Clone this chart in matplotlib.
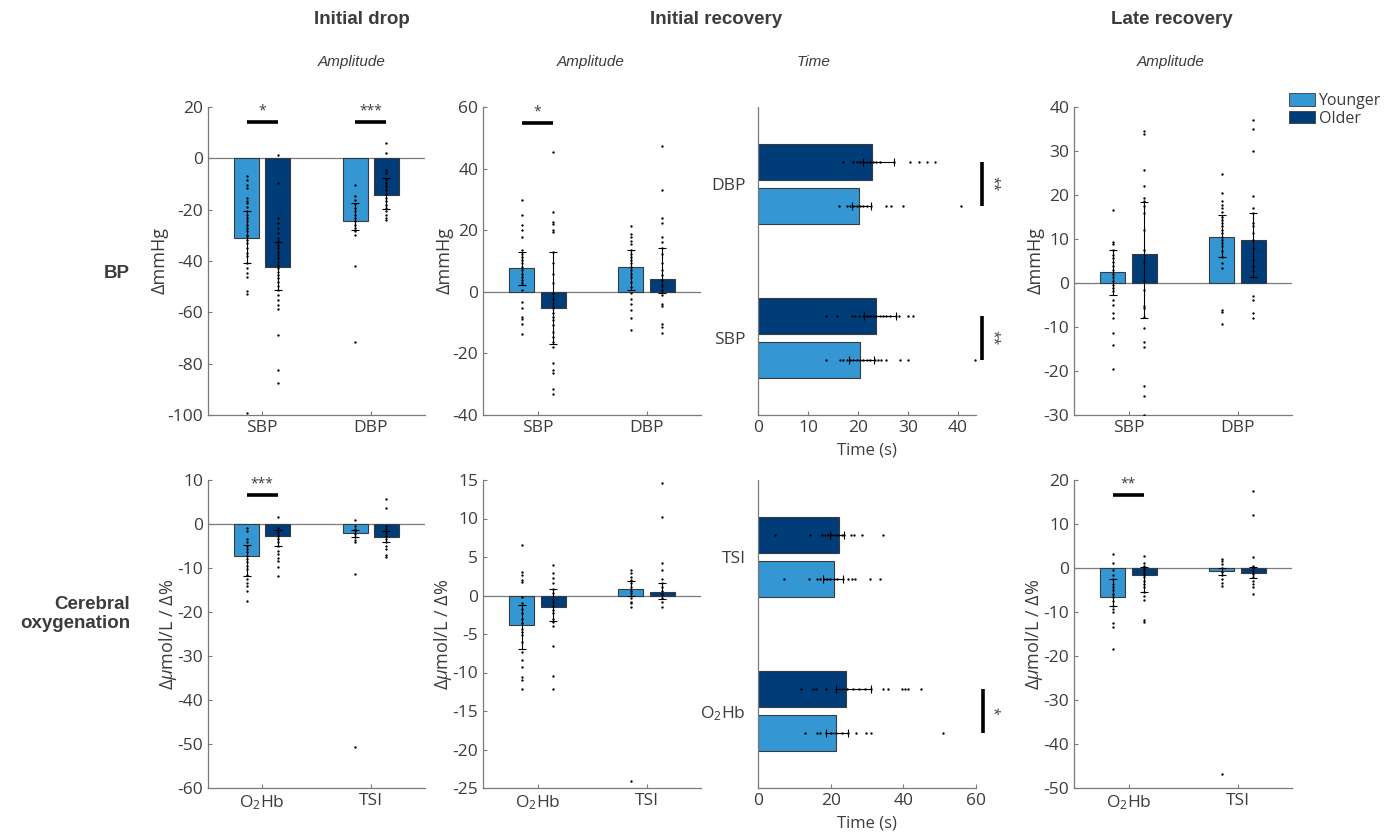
import numpy as np
import matplotlib.pyplot as plt
from matplotlib.patches import Patch

plt.rcParams['font.family'] = ['Open Sans', 'DejaVu Sans']
plt.rcParams['mathtext.fontset'] = 'custom'
plt.rcParams['mathtext.rm'] = 'Open Sans'
plt.rcParams['mathtext.it'] = 'Open Sans:italic'
plt.rcParams['axes.unicode_minus'] = False

C_YOUNG = '#3497d3'
C_OLD = '#003c78'
EDGE = '#3a3a3a'
TXT = '#3c3c3c'
AXC = '#7a7a7a'
HEAD = ['Liberation Sans', 'DejaVu Sans']
OFF = 0.143
W = 0.229

bp_cats = ['SBP', 'DBP']
ox_cats = ['O$_2$Hb', 'TSI']

# ---- Initial drop, amplitude, BP
drop_bp_young = [-31.1, -24.3]
drop_bp_old = [-42.4, -14.4]
drop_bp_young_ci = [(-40.8, -20.7), (-27.8, -17.4)]
drop_bp_old_ci = [(-51.2, -32.6), (-19.6, -7.7)]
drop_bp_young_pts = [
    [-7.0, -8.3, -10.5, -11.6, -15.5, -16.5, -17.4, -19.0, -20.7, -22.2, -23.3, -24.6, -25.9, -27.2, -28.5,
     -29.8, -30.4, -31.7, -33.0, -35.0, -36.9, -38.2, -40.8, -42.8, -44.7, -46.4, -51.6, -52.8, -99.1],
    [-10.3, -14.8, -16.1, -17.7, -19.4, -20.7, -22.0, -23.3, -24.6, -25.9, -27.2, -28.5, -29.8, -42.1, -71.4]]
drop_bp_old_pts = [
    [1.2, -9.6, -23.3, -25.2, -27.2, -29.1, -31.1, -32.4, -33.7, -35.0, -36.3, -37.6, -38.9, -40.2, -41.5,
     -42.8, -44.1, -45.4, -46.7, -48.0, -49.9, -51.2, -53.2, -55.1, -57.1, -58.8, -68.8, -82.4, -87.4],
    [6.0, 2.1, -4.4, -5.7, -8.1, -9.6, -10.9, -12.2, -13.8, -15.5, -16.8, -18.1, -19.4, -20.7, -22.0, -23.3, -24.2]]
drop_bp_sig = [(0, 14.2, '*'), (1, 14.2, '***')]

# ---- Initial recovery, amplitude, BP
recamp_bp_young = [7.6, 7.9]
recamp_bp_old = [-5.1, 4.3]
recamp_bp_young_ci = [(2.2, 13.0), (0.5, 13.7)]
recamp_bp_old_ci = [(-16.8, 13.0), (-0.5, 14.3)]
recamp_bp_young_pts = [
    [29.7, 24.9, 21.8, 20.0, 17.8, 13.5, 12.4, 11.4, 10.3, 9.2, 8.1, 7.0, 5.9, 4.9, 3.8, 2.7, 0.5, -3.2, -5.4,
     -8.1, -8.9, -10.3, -13.7],
    [21.3, 18.9, 17.8, 16.5, 15.5, 13.7, 12.4, 11.4, 10.3, 9.2, 8.1, 7.0, 5.9, 4.9, 3.2, 1.6, -0.5, -2.2, -3.8,
     -5.9, -8.6, -12.4]]
recamp_bp_old_pts = [
    [45.4, 25.9, 22.7, 21.9, 20.0, 19.5, 13.0, 9.2, 5.9, 2.7, -0.5, -2.2, -3.8, -5.4, -7.0, -8.1, -9.2, -10.8,
     -13.0, -14.6, -16.2, -17.8, -23.2, -25.4, -26.5, -31.4, -33.2],
    [47.2, 33.2, 23.8, 22.2, 17.8, 16.2, 14.3, 12.4, 9.2, 7.0, 5.4, 3.8, 2.2, 0.5, -1.1, -3.8, -4.6, -10.3,
     -11.4, -13.5]]
recamp_bp_sig = [(0, 54.9, '*')]

# ---- Initial recovery, time, BP (SBP bottom, DBP top)
rectime_bp_young = [20.3, 20.1]
rectime_bp_old = [23.5, 22.9]
rectime_bp_young_ci = [(18.1, 23.2), (18.7, 22.7)]
rectime_bp_old_ci = [(21.2, 27.7), (21.0, 27.2)]
rectime_bp_young_pts = [
    [13.5, 16.3, 17.0, 17.7, 18.3, 19.0, 19.7, 20.3, 21.0, 21.7, 22.3, 23.3, 24.0, 24.7, 25.7, 28.5, 30.1, 43.5],
    [16.2, 17.7, 18.3, 19.0, 19.7, 20.3, 21.0, 21.7, 22.7, 25.7, 26.5, 29.0, 40.7]]
rectime_bp_old_pts = [
    [13.5, 15.7, 18.7, 19.3, 20.2, 21.0, 21.7, 22.3, 23.0, 23.7, 24.3, 25.0, 25.7, 26.3, 27.7, 28.3, 30.0, 31.0],
    [16.9, 19.0, 19.7, 20.3, 21.0, 21.7, 22.3, 23.0, 23.7, 24.3, 27.2, 30.5, 32.3, 33.8, 35.4]]
rectime_bp_sig = [(0, 44.9, '**'), (1, 44.9, '**')]

# ---- Late recovery, amplitude, BP
late_bp_young = [2.5, 10.4]
late_bp_old = [6.6, 9.7]
late_bp_young_ci = [(-2.7, 7.5), (5.9, 15.4)]
late_bp_old_ci = [(-7.9, 18.4), (1.3, 15.9)]
late_bp_young_pts = [
    [16.5, 9.4, 8.9, 7.5, 6.4, 5.6, 4.7, 3.8, 3.0, 2.1, 1.3, 0.5, -0.4, -1.2, -1.9, -3.8, -5.0, -6.8, -8.0,
     -11.4, -14.2, -19.6],
    [24.7, 20.4, 18.7, 17.7, 17.0, 16.2, 15.1, 14.4, 13.6, 12.9, 12.1, 11.3, 10.5, 9.8, 9.1, 8.3, 7.2, 6.0, 4.5,
     3.5, -6.1, -6.6, -9.3]]
late_bp_old_pts = [
    [34.6, 33.9, 25.7, 22.1, 19.3, 18.7, 17.6, 15.9, 12.1, 7.4, 4.7, 0.7, -1.6, -5.2, -5.7, -7.8, -10.3, -13.3,
     -14.6, -23.5, -25.6, -30.0],
    [37.0, 35.0, 30.1, 19.7, 17.0, 15.9, 13.6, 12.9, 11.3, 9.8, 7.9, 5.3, 3.8, 2.7, 1.3, -2.9, -3.8, -6.8, -8.0]]
late_bp_sig = []

# ---- Initial drop, amplitude, oxygenation
drop_ox_young = [-7.3, -2.1]
drop_ox_old = [-2.7, -2.9]
drop_ox_young_ci = [(-11.9, -4.7), (-3.0, -1.4)]
drop_ox_old_ci = [(-5.0, -1.4), (-4.0, -1.7)]
drop_ox_young_pts = [
    [-0.8, -1.5, -3.4, -4.2, -4.9, -5.7, -6.4, -7.2, -8.0, -8.7, -9.5, -10.2, -11.7, -12.5, -13.3, -14.0,
     -15.2, -17.4],
    [0.8, -0.4, -1.1, -1.7, -2.3, -2.9, -3.6, -4.2, -11.4, -50.6]]
drop_ox_old_pts = [
    [1.7, -0.8, -1.9, -2.7, -3.4, -4.2, -5.0, -6.1, -6.8, -7.7, -8.3, -9.7, -11.9],
    [5.7, 3.6, -0.4, -1.1, -1.9, -2.7, -3.4, -4.2, -4.9, -5.7, -7.0, -7.6]]
drop_ox_sig = [(0, 6.6, '***')]

# ---- Initial recovery, amplitude, oxygenation
recamp_ox_young = [-3.8, 0.9]
recamp_ox_old = [-1.5, 0.5]
recamp_ox_young_ci = [(-7.0, -1.2), (-0.1, 1.9)]
recamp_ox_old_ci = [(-3.3, 0.8), (-0.4, 1.6)]
recamp_ox_young_pts = [
    [6.5, 3.1, 2.6, 2.0, 1.8, -0.2, -1.0, -1.7, -2.3, -3.0, -3.6, -4.3, -4.7, -5.1, -6.0, -7.3, -8.4, -9.3,
     -10.6, -11.0, -12.2],
    [3.3, 2.9, 2.4, 2.0, 1.6, 1.1, 0.6, 0.3, -0.3, -0.8, -1.0, -1.5, -24.1]]
recamp_ox_old_pts = [
    [3.9, 2.9, 2.3, 1.6, 0.9, 0.3, -0.4, -0.8, -1.3, -1.9, -2.3, -3.0, -3.4, -3.9, -6.6, -10.4, -12.1],
    [14.6, 10.2, 4.2, 3.3, 2.2, 1.6, 1.1, 0.6, 0.2, -0.3, -0.8, -1.5]]
recamp_ox_sig = []

# ---- Initial recovery, time, oxygenation (O2Hb bottom, TSI top)
rectime_ox_young = [21.4, 20.8]
rectime_ox_old = [24.2, 22.3]
rectime_ox_young_ci = [(18.8, 24.8), (17.9, 23.4)]
rectime_ox_old_ci = [(21.6, 31.0), (19.8, 23.6)]
rectime_ox_young_pts = [
    [12.9, 16.3, 17.2, 18.8, 20.2, 21.6, 23.0, 24.8, 27.1, 29.6, 31.0, 51.0],
    [7.1, 14.1, 16.3, 17.2, 18.1, 19.0, 19.9, 20.9, 21.8, 23.4, 24.8, 26.0, 26.8, 30.8, 33.5]]
rectime_ox_old_pts = [
    [11.7, 15.2, 15.9, 18.8, 21.6, 23.0, 24.4, 26.2, 27.8, 29.4, 31.0, 34.3, 35.8, 39.5, 40.4, 41.4, 45.0],
    [4.6, 14.2, 17.5, 18.4, 19.3, 20.2, 21.1, 22.1, 23.0, 23.6, 25.5, 26.4, 28.5, 34.3]]
rectime_ox_sig = [(0, 61.9, '*')]

# ---- Late recovery, amplitude, oxygenation
late_ox_young = [-6.7, -0.7]
late_ox_old = [-1.7, -1.2]
late_ox_young_ci = [(-8.6, -2.5), (-1.7, 0.0)]
late_ox_old_ci = [(-5.4, 0.2), (-2.3, 0.2)]
late_ox_young_pts = [
    [3.2, 1.1, -0.5, -1.7, -2.5, -3.6, -4.4, -5.1, -5.9, -6.7, -7.4, -8.6, -9.3, -10.1, -12.6, -13.5, -18.4],
    [2.0, 1.5, 0.8, -0.1, -0.8, -1.7, -2.5, -3.3, -4.0, -46.8]]
late_ox_old_pts = [
    [2.8, 1.1, 0.5, -0.2, -0.8, -1.5, -2.1, -2.9, -3.6, -4.4, -5.4, -6.3, -7.3, -11.8, -12.3],
    [17.4, 12.1, 2.6, 0.5, 0.0, -0.6, -1.4, -2.1, -2.9, -3.6, -4.4, -5.9]]
late_ox_sig = [(0, 16.6, '**')]


def style(ax):
    ax.set_facecolor('none')
    for s in ['top', 'right']:
        ax.spines[s].set_visible(False)
    for s in ['left', 'bottom']:
        ax.spines[s].set_color(AXC)
        ax.spines[s].set_linewidth(0.9)
    ax.tick_params(direction='in', length=3, width=0.8, color=AXC, labelcolor=TXT, labelsize=12.5)


def vpanel(ax, cats, young, old, yci, oci, ypts, opts, ylim, yticks, ylabel, sig):
    x = np.arange(1, len(cats) + 1)
    for off, vals, ci, pts, col in [(-OFF, young, yci, ypts, C_YOUNG), (OFF, old, oci, opts, C_OLD)]:
        vals = np.array(vals)
        lo = np.array([c[0] for c in ci])
        hi = np.array([c[1] for c in ci])
        ax.bar(x + off, vals, width=W, color=col, edgecolor=EDGE, linewidth=0.8, zorder=2)
        for xi, p in zip(x + off, pts):
            ax.plot(np.full(len(p), xi), p, 'o', ms=1.7, mew=0, color='k', zorder=3)
        ax.errorbar(x + off, vals, yerr=[np.abs(vals - lo), np.abs(hi - vals)], fmt='none', ecolor='k',
                    elinewidth=0.8, capsize=3, capthick=0.8, zorder=4)
    ax.axhline(0, color=AXC, lw=0.9, zorder=1.5)
    ax.set_xlim(0.5, len(cats) + 0.5)
    ax.set_ylim(*ylim)
    ax.set_yticks(yticks)
    ax.set_xticks(x)
    ax.set_xticklabels(cats)
    ax.set_ylabel(ylabel, fontsize=13, color=TXT, labelpad=-1)
    style(ax)
    for g, yv, lab in sig:
        ax.plot([x[g] - OFF, x[g] + OFF], [yv, yv], color='k', lw=2.6, solid_capstyle='butt', zorder=5)
        ax.annotate(lab, (x[g], yv), xytext=(0, 2.5), textcoords='offset points', ha='center', va='bottom',
                    fontsize=10, color=TXT)


def hpanel(ax, cats, young, old, yci, oci, ypts, opts, xlim, xticks, sig):
    y = np.arange(1, len(cats) + 1)
    for off, vals, ci, pts, col in [(-OFF, young, yci, ypts, C_YOUNG), (OFF, old, oci, opts, C_OLD)]:
        vals = np.array(vals)
        lo = np.array([c[0] for c in ci])
        hi = np.array([c[1] for c in ci])
        ax.barh(y + off, vals, height=W, color=col, edgecolor=EDGE, linewidth=0.8, zorder=2)
        for yi, p in zip(y + off, pts):
            ax.plot(p, np.full(len(p), yi), 'o', ms=1.7, mew=0, color='k', zorder=3)
        ax.errorbar(vals, y + off, xerr=[np.abs(vals - lo), np.abs(hi - vals)], fmt='none', ecolor='k',
                    elinewidth=0.8, capsize=3, capthick=0.8, zorder=4)
    ax.set_ylim(0.5, len(cats) + 0.5)
    ax.set_xlim(*xlim)
    ax.set_xticks(xticks)
    ax.set_yticks(y)
    ax.set_yticklabels(cats)
    ax.set_xlabel('Time (s)', fontsize=12, color=TXT, labelpad=5)
    style(ax)
    ax.tick_params(axis='y', length=0, pad=9, labelsize=12.5)
    for g, xv, lab in sig:
        ax.plot([xv, xv], [y[g] - OFF, y[g] + OFF], color='k', lw=2.6, solid_capstyle='butt', zorder=5,
                clip_on=False)
        ax.annotate(lab, (xv, y[g]), xytext=(1.5, 0), textcoords='offset points', ha='left', va='center',
                    rotation=270, fontsize=10, color=TXT, annotation_clip=False)


fig = plt.figure(figsize=(13.86, 8.34), dpi=100)
FW, FH = 1386, 834


def add(x0, x1, top, bot):
    return fig.add_axes([x0 / FW, 1 - bot / FH, (x1 - x0) / FW, (bot - top) / FH])


ox_label = 'Δ$\\mu$mol/L / Δ%'

ax = add(208, 425, 107, 415)
vpanel(ax, bp_cats, drop_bp_young, drop_bp_old, drop_bp_young_ci, drop_bp_old_ci, drop_bp_young_pts,
       drop_bp_old_pts, (-100, 20), range(-100, 21, 20), 'ΔmmHg', drop_bp_sig)
ax = add(483, 701, 107, 415)
vpanel(ax, bp_cats, recamp_bp_young, recamp_bp_old, recamp_bp_young_ci, recamp_bp_old_ci, recamp_bp_young_pts,
       recamp_bp_old_pts, (-40, 60), range(-40, 61, 20), 'ΔmmHg', recamp_bp_sig)
ax = add(758, 976, 107, 415)
hpanel(ax, bp_cats, rectime_bp_young, rectime_bp_old, rectime_bp_young_ci, rectime_bp_old_ci,
       rectime_bp_young_pts, rectime_bp_old_pts, (0, 43.6), range(0, 41, 10), rectime_bp_sig)
ax = add(1074, 1292, 107, 415)
vpanel(ax, bp_cats, late_bp_young, late_bp_old, late_bp_young_ci, late_bp_old_ci, late_bp_young_pts,
       late_bp_old_pts, (-30, 40), range(-30, 41, 10), 'ΔmmHg', late_bp_sig)

ax = add(208, 425, 480, 788)
vpanel(ax, ox_cats, drop_ox_young, drop_ox_old, drop_ox_young_ci, drop_ox_old_ci, drop_ox_young_pts,
       drop_ox_old_pts, (-60, 10), range(-60, 11, 10), ox_label, drop_ox_sig)
ax = add(483, 701, 480, 788)
vpanel(ax, ox_cats, recamp_ox_young, recamp_ox_old, recamp_ox_young_ci, recamp_ox_old_ci, recamp_ox_young_pts,
       recamp_ox_old_pts, (-25, 15), range(-25, 16, 5), ox_label, recamp_ox_sig)
ax = add(758, 976, 480, 788)
hpanel(ax, ox_cats, rectime_ox_young, rectime_ox_old, rectime_ox_young_ci, rectime_ox_old_ci,
       rectime_ox_young_pts, rectime_ox_old_pts, (0, 60), range(0, 61, 20), rectime_ox_sig)
ax = add(1074, 1292, 480, 788)
vpanel(ax, ox_cats, late_ox_young, late_ox_old, late_ox_young_ci, late_ox_old_ci, late_ox_young_pts,
       late_ox_old_pts, (-50, 20), range(-50, 21, 10), ox_label, late_ox_sig)

# headers
for xc, t in [(362, 'Initial drop'), (716, 'Initial recovery'), (1172, 'Late recovery')]:
    fig.text(xc / FW, 1 - 20 / FH, t, ha='center', va='center', fontsize=13.5, fontweight='bold', color=TXT,
             family=HEAD)
for xc, t in [(352, 'Amplitude'), (591, 'Amplitude'), (814, 'Time'), (1171, 'Amplitude')]:
    fig.text(xc / FW, 1 - 62 / FH, t, ha='center', va='center', fontsize=11, style='italic', color=TXT,
             family=HEAD)
fig.text(130 / FW, 1 - 274 / FH, 'BP', ha='right', va='center', fontsize=13.5, fontweight='bold', color=TXT,
         family=HEAD)
fig.text(130 / FW, 1 - 614 / FH, 'Cerebral\noxygenation', ha='right', va='center', fontsize=13.5,
         fontweight='bold', color=TXT, multialignment='right', linespacing=1.2, family=HEAD)

handles = [Patch(facecolor=C_YOUNG, edgecolor=EDGE, linewidth=0.6, label='Younger'),
           Patch(facecolor=C_OLD, edgecolor=EDGE, linewidth=0.6, label='Older')]
fig.legend(handles=handles, loc='upper left', bbox_to_anchor=(1289 / FW, 1 - 93 / FH), frameon=False,
           fontsize=11.5, handlelength=1.6, handleheight=0.8, handletextpad=0.25, labelspacing=0.1,
           borderaxespad=0, borderpad=0, labelcolor=TXT)

fig.savefig('out.png', dpi=100)
